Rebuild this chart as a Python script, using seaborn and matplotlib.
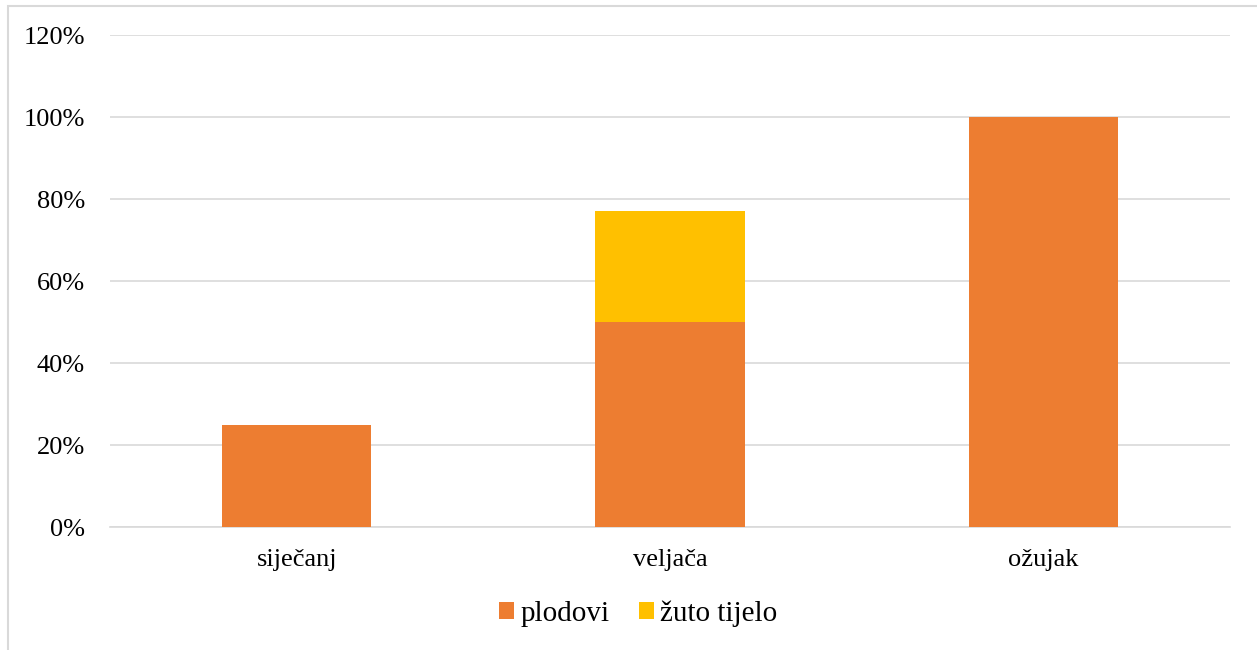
import matplotlib
matplotlib.use("Agg")
import matplotlib.pyplot as plt
from matplotlib.patches import Rectangle, Patch
from matplotlib.ticker import PercentFormatter
import seaborn as sns
import pandas as pd

months = ["siječanj", "veljača", "ožujak"]
plodovi = [25, 50, 100]
zuto_tijelo = [0, 27, 0]
series_names = ["plodovi", "žuto tijelo"]
colors = ["#ED7D31", "#FFC000"]

sns.set_style("white")
plt.rcParams["font.family"] = ["Liberation Serif", "DejaVu Serif"]
plt.rcParams["text.color"] = "black"

df = pd.DataFrame({
    "month": months,
    "plodovi": plodovi,
    "total": [p + z for p, z in zip(plodovi, zuto_tijelo)],
})

fig = plt.figure(figsize=(12.57, 6.5), dpi=100)
ax = fig.add_axes([110 / 1257, 123 / 650, 1120 / 1257, 492 / 650])

# stacked: draw totals in yellow, then the lower segment in orange
sns.barplot(data=df, x="month", y="total", color=colors[1], width=0.4,
            saturation=1, linewidth=0, ax=ax, zorder=3)
sns.barplot(data=df, x="month", y="plodovi", color=colors[0], width=0.4,
            saturation=1, linewidth=0, ax=ax, zorder=3)

ax.set_ylim(0, 120)
ax.set_yticks(range(0, 121, 20))
ax.yaxis.set_major_formatter(PercentFormatter(decimals=0))
ax.grid(axis="y", color="#d9d9d9", linewidth=1.2, zorder=0)
ax.set_axisbelow(True)
for side in ["top", "right", "left"]:
    ax.spines[side].set_visible(False)
ax.spines["bottom"].set_color("#d9d9d9")
ax.spines["bottom"].set_linewidth(1.2)
ax.tick_params(axis="both", length=0, labelsize=19, colors="black")
ax.tick_params(axis="x", pad=16)
ax.tick_params(axis="y", pad=18)
ax.set_xlabel("")
ax.set_ylabel("")

handles = [Patch(facecolor=c, edgecolor="none") for c in colors]
fig.legend(handles, series_names, loc="center", bbox_to_anchor=(638 / 1257, 1 - 614 / 650),
           ncol=2, frameon=False, fontsize=21, handlelength=0.52, handleheight=0.52,
           handletextpad=0.2, columnspacing=1.0, labelcolor="black")

fig.patches.append(Rectangle((8 / 1257, -0.1), 1.2, 1.1 - 6 / 650, transform=fig.transFigure,
                             fill=False, edgecolor="#d9d9d9", linewidth=1.5))

fig.savefig("out.png", dpi=100)
